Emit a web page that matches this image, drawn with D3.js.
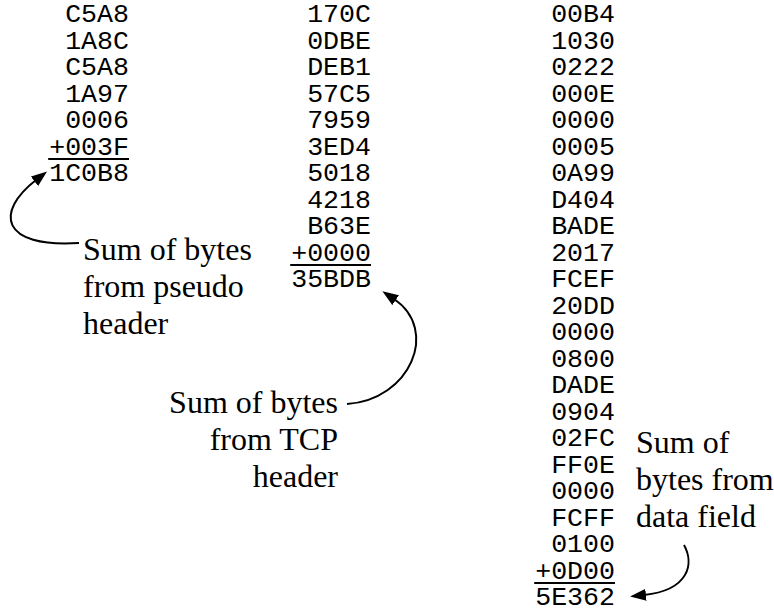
<!DOCTYPE html>
<html>
<head>
<meta charset="utf-8">
<script src="https://cdn.jsdelivr.net/npm/d3@7"></script>
<style>
  html, body { margin: 0; padding: 0; background: #fff; }
  svg { display: block; }
</style>
</head>
<body>
<script>
// ---- data ----
const pseudoHeader = ["C5A8", "1A8C", "C5A8", "1A97", "0006", "003F"];
const pseudoSum = "1C0B8";
const tcpHeader = ["170C", "0DBE", "DEB1", "57C5", "7959", "3ED4", "5018", "4218", "B63E", "0000"];
const tcpSum = "35BDB";
const dataField = ["00B4", "1030", "0222", "000E", "0000", "0005", "0A99", "D404", "BADE", "2017",
                   "FCEF", "20DD", "0000", "0800", "DADE", "0904", "02FC", "FF0E", "0000", "FCFF",
                   "0100", "0D00"];
const dataSum = "5E362";
const labels = [
  ["Sum of bytes", "from pseudo", "header"],
  ["Sum of bytes", "from TCP", "header"],
  ["Sum of", "bytes from", "data field"]
];

const W = 774, H = 614;
const svg = d3.select("body").append("svg").attr("width", W).attr("height", H);

const defs = svg.append("defs");
defs.append("marker")
  .attr("id", "ah").attr("markerUnits", "userSpaceOnUse")
  .attr("viewBox", "0 0 16 12").attr("refX", 2).attr("refY", 6)
  .attr("markerWidth", 16).attr("markerHeight", 12).attr("orient", "auto")
  .append("path").attr("d", "M0,0 L16,6 L0,12 Z").attr("fill", "#000");

// row scale (baselines)
const y = d3.scaleLinear().domain([0, 22]).range([22, 605]);
const colRight = d3.scaleOrdinal().domain([0, 1, 2]).range([129, 371, 615]);

const columns = [
  { addends: pseudoHeader, sum: pseudoSum },
  { addends: tcpHeader, sum: tcpSum },
  { addends: dataField, sum: dataSum }
];

columns.forEach((c, ci) => {
  const rows = c.addends.map((v, i) => (i === c.addends.length - 1 ? "+" : "") + v).concat([c.sum]);
  const g = svg.append("g");
  g.selectAll("text").data(rows).join("text")
    .attr("x", colRight(ci))
    .attr("y", (d, i) => y(i))
    .attr("text-anchor", "end")
    .attr("font-family", "'Liberation Mono', 'Courier New', monospace")
    .attr("font-size", 26.6)
    .attr("fill", "#000")
    .text(d => d);
  // underline beneath last addend
  const lastIdx = c.addends.length - 1;
  const node = g.selectAll("text").nodes()[lastIdx];
  const len = node.getComputedTextLength();
  g.append("line")
    .attr("x1", colRight(ci) - len - 1).attr("x2", colRight(ci))
    .attr("y1", y(lastIdx) + 4.5).attr("y2", y(lastIdx) + 4.5)
    .attr("stroke", "#000").attr("stroke-width", 2);
});

// labels
const labelPos = [
  { x: 83, y0: 260, anchor: "start" },
  { x: 338, y0: 413, anchor: "end" },
  { x: 636, y0: 453, anchor: "start" }
];
labels.forEach((lines, li) => {
  const p = labelPos[li];
  svg.append("g").selectAll("text").data(lines).join("text")
    .attr("x", p.x)
    .attr("y", (d, i) => p.y0 + i * 37)
    .attr("text-anchor", p.anchor)
    .attr("font-family", "'Liberation Serif', 'Times New Roman', serif")
    .attr("font-size", 32)
    .attr("fill", "#000")
    .text(d => d);
});

// arrows
const arrows = [
  "M79,243 C0,248 -5,212 36,180",
  "M347,404 C410,400 440,330 394,299",
  "M684,545 C694,563 690,590 644,595"
];
svg.append("g").selectAll("path").data(arrows).join("path")
  .attr("d", d => d)
  .attr("fill", "none").attr("stroke", "#000").attr("stroke-width", 2)
  .attr("marker-end", "url(#ah)");
</script>
</body>
</html>
